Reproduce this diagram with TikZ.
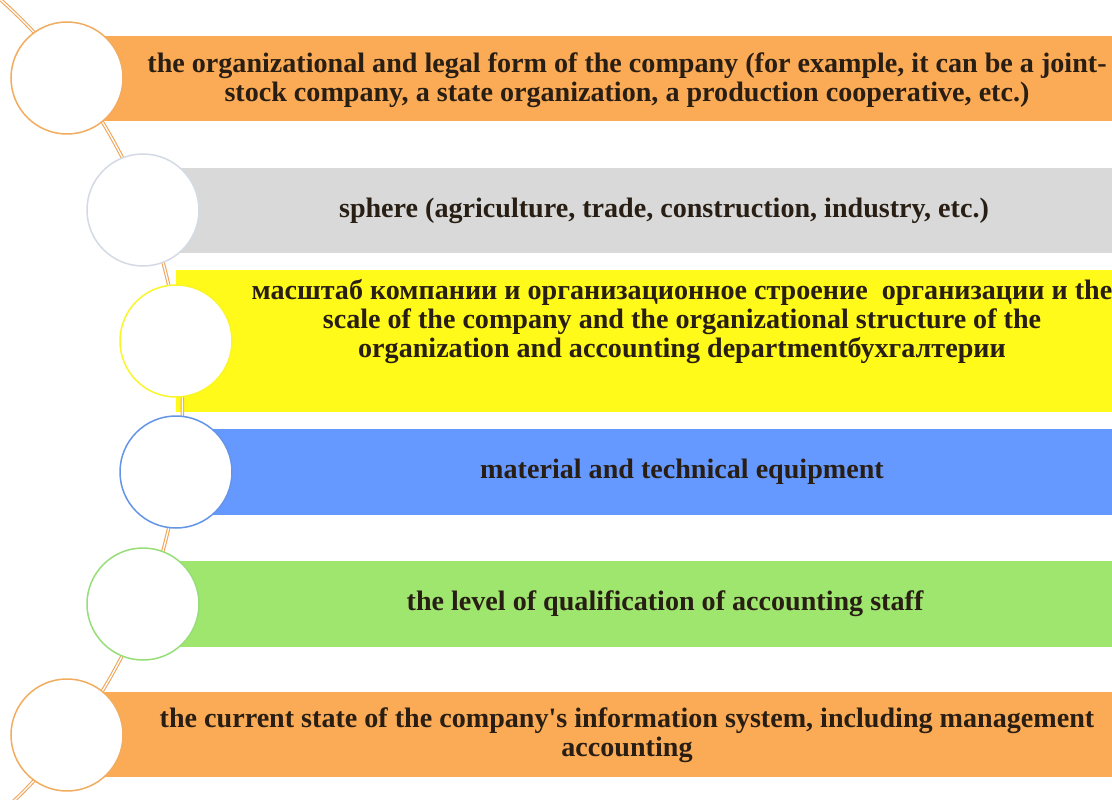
\documentclass[tikz,border=0pt]{standalone}
\usepackage{fontspec}
\setmainfont{Liberation Serif}[BoldFont={Liberation Serif Bold}, Ligatures=TeXOff]
\definecolor{barorange}{RGB}{251,170,85}
\definecolor{bargrey}{RGB}{217,217,217}
\definecolor{baryellow}{RGB}{255,250,25}
\definecolor{barblue}{RGB}{102,153,255}
\definecolor{bargreen}{RGB}{158,230,110}
\definecolor{ringorange}{RGB}{242,172,95}
\definecolor{ringgrey}{RGB}{212,218,228}
\definecolor{ringyellow}{RGB}{250,245,40}
\definecolor{ringblue}{RGB}{100,148,232}
\definecolor{ringgreen}{RGB}{150,222,120}
\definecolor{arcline}{RGB}{240,165,90}
\definecolor{txt}{RGB}{40,30,20}
\tikzset{
  ring/.style={circle, fill=white, line width=1.5pt, minimum size=112pt, inner sep=0pt},
  label/.style={align=center, text=txt, inner sep=0pt,
    font=\fontsize{28.1}{29}\selectfont\bfseries},
}
\begin{document}
\begin{tikzpicture}[x=1pt,y=-1pt]
\useasboundingbox (0,0) rectangle (1112,800);
\begin{scope}
\clip (0,0) rectangle (1112,800);
% bars
\fill[barorange] (67,36) rectangle (1112,121);
\fill[bargrey] (143,168) rectangle (1112,253);
\fill[baryellow] (176,270) rectangle (1112,412);
\fill[barblue] (176,429) rectangle (1112,515);
\fill[bargreen] (143,561) rectangle (1112,647);
\fill[barorange] (67,692) rectangle (1112,777);
% arc
\draw[arcline, line width=1.1pt, double=white, double distance=1.3pt]
  plot[domain=-50:50, samples=80, smooth] ({-363.6+546*cos(\x)}, {406.5+546*sin(\x)});
% rings
\node[ring, draw=ringorange] (c1) at (67,78) {};
\node[ring, draw=ringgrey] (c2) at (143,210) {};
\node[ring, draw=ringyellow] (c3) at (176,341) {};
\node[ring, draw=ringblue] (c4) at (176,472) {};
\node[ring, draw=ringgreen] (c5) at (143,604) {};
\node[ring, draw=ringorange] (c6) at (67,735) {};
% labels
\node[label] (t1) at (627,80) {the organizational and legal form of the company (for example, it can be a joint-\\stock company, a state organization, a production cooperative, etc.)};
\node[label] (t2) at (664,211) {sphere (agriculture, trade, construction, industry, etc.)};
\node[label] (t3) at (682,322) {масштаб компании и организационное строение\ \ организации и the\\scale of the company and the organizational structure of the\\organization and accounting departmentбухгалтерии};
\node[label] (t4) at (682,472) {material and technical equipment};
\node[label] (t5) at (665,604) {the level of qualification of accounting staff};
\node[label] (t6) at (627,735) {the current state of the company's information system, including management\\accounting};
\end{scope}
\end{tikzpicture}
\end{document}
